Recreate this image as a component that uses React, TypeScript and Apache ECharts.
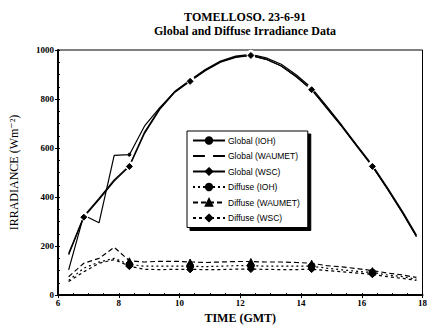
import React, { useEffect, useRef } from "react";
import * as echarts from "echarts";

const times = [6.35, 6.85, 7.35, 7.85, 8.35, 8.85, 9.35, 9.85, 10.35, 10.85, 11.35, 11.85, 12.35, 12.85, 13.35, 13.85, 14.35, 14.85, 15.35, 15.85, 16.35, 16.85, 17.35, 17.8];

const globalIOH = [103, 326, 295, 570, 573, 690, 765, 830, 875, 918, 952, 972, 978, 962, 935, 892, 838, 765, 688, 608, 525, 432, 335, 240];
const globalWAUMET = [170, 322, 395, 470, 528, 665, 762, 832, 878, 920, 955, 975, 982, 968, 942, 898, 845, 770, 692, 610, 530, 438, 340, 245];
const globalWSC = [165, 318, 390, 465, 525, 660, 758, 828, 872, 915, 950, 970, 978, 962, 935, 890, 838, 762, 686, 605, 525, 432, 333, 238];

const diffuseIOH = [60, 110, 135, 150, 125, 118, 118, 118, 118, 116, 118, 120, 120, 118, 118, 118, 118, 110, 103, 97, 92, 82, 75, 65];
const diffuseWAUMET = [75, 130, 150, 195, 140, 135, 138, 138, 135, 133, 135, 137, 137, 135, 135, 133, 130, 120, 115, 108, 100, 90, 82, 72];
const diffuseWSC = [55, 95, 130, 145, 118, 105, 104, 105, 105, 104, 104, 106, 106, 105, 104, 104, 106, 100, 95, 90, 85, 75, 68, 60];

const markerIdx = [1, 4, 8, 12, 16, 20];
const diffuseMarkerIdx = [4, 8, 12, 16, 20];

const xTicks = [6, 8, 10, 12, 14, 16, 18];
const yTicks = [0, 200, 400, 600, 800, 1000];

const titleLines = ["TOMELLOSO. 23-6-91", "Global and Diffuse Irradiance Data"];

function build(values: number[], marks: number[]) {
  return values.map((v, i) =>
    marks.includes(i) ? { value: [times[i], v] } : { value: [times[i], v], symbol: "none" }
  );
}

const serif = "'Liberation Serif', 'DejaVu Serif', serif";
const sans = "'Liberation Sans', Arial, sans-serif";

export default function App() {
  const ref = useRef<HTMLDivElement>(null);
  useEffect(() => {
    if (!ref.current) return;
    const chart = echarts.init(ref.current, null, { renderer: "svg" });
    const line = (name: string, data: number[], marks: number[], symbol: string, size: number, type: any, filled: boolean) => ({
      name,
      type: "line",
      data: build(data, marks),
      symbol,
      symbolSize: size,
      showSymbol: true,
      lineStyle: { color: "#000", width: 1.2, type },
      itemStyle: { color: filled ? "#000" : "#fff", borderColor: "#000", borderWidth: 1 },
      z: 3,
    });
    chart.setOption({
      animation: false,
      backgroundColor: "#fff",
      title: {
        text: titleLines.join("\n"),
        left: 240,
        top: 5,
        textAlign: "center",
        textStyle: { fontFamily: serif, fontWeight: "bold", fontSize: 12, lineHeight: 14, color: "#000" },
      },
      legend: {
        orient: "vertical",
        left: 187,
        top: 131,
        itemWidth: 32,
        itemHeight: 8,
        itemGap: 6.5,
        padding: [5, 8, 5, 5],
        backgroundColor: "#fff",
        borderColor: "#000",
        borderWidth: 1,
        shadowColor: "#000",
        shadowOffsetX: 3,
        shadowOffsetY: 3,
        shadowBlur: 0,
        textStyle: { fontFamily: sans, fontSize: 8.5, color: "#000", padding: [0, 0, 0, -2] },
        data: ["Global (IOH)", "Global (WAUMET)", "Global (WSC)", "Diffuse (IOH)", "Diffuse (WAUMET)", "Diffuse (WSC)"],
      },
      grid: {
        left: 58,
        top: 50,
        right: 0,
        bottom: 31,
        show: true,
        borderColor: "#000",
        borderWidth: 1,
        backgroundColor: "transparent",
      },
      xAxis: [
        {
          type: "value",
          min: 6,
          max: 18,
          interval: 2,
          name: "TIME (GMT)",
          nameLocation: "middle",
          nameGap: 14,
          nameTextStyle: { fontFamily: serif, fontWeight: "bold", fontSize: 12, color: "#000" },
          axisLine: { show: true, lineStyle: { color: "#000", width: 2 } },
          axisTick: { show: true, length: 3, lineStyle: { color: "#000", width: 1 } },
          axisLabel: { fontFamily: serif, fontWeight: "bold", fontSize: 9, color: "#000", margin: 3,
            formatter: (v: number) => (xTicks.includes(v) ? String(v) : "") },
          splitLine: { show: false },
        },
        {
          type: "value",
          min: 6,
          max: 18,
          interval: 0.5,
          position: "bottom",
          axisLine: { show: false },
          axisTick: { show: true, inside: true, length: 2, lineStyle: { color: "#000", width: 1 } },
          axisLabel: { show: false },
          splitLine: { show: false },
        },
      ],
      yAxis: [
        {
          type: "value",
          min: 0,
          max: 1000,
          interval: 200,
          name: "IRRADIANCE (Wm\u207B\u00B2)",
          nameLocation: "middle",
          nameGap: 38,
          nameTextStyle: { fontFamily: serif, fontSize: 12, color: "#000" },
          axisLine: { show: true, lineStyle: { color: "#000", width: 2 } },
          axisTick: { show: true, length: 3, lineStyle: { color: "#000", width: 1 } },
          axisLabel: { fontFamily: serif, fontWeight: "bold", fontSize: 9, color: "#000", margin: 4,
            formatter: (v: number) => (yTicks.includes(v) ? String(v) : "") },
          splitLine: { show: false },
        },
        {
          type: "value",
          min: 0,
          max: 1000,
          interval: 50,
          position: "left",
          axisLine: { show: false },
          axisTick: { show: true, inside: true, length: 2, lineStyle: { color: "#000", width: 1 } },
          axisLabel: { show: false },
          splitLine: { show: false },
        },
      ],
      series: [
        line("Global (IOH)", globalIOH, markerIdx, "circle", 3, "solid", true),
        line("Global (WAUMET)", globalWAUMET, markerIdx, "emptyCircle", 7, "solid", false),
        line("Global (WSC)", globalWSC, markerIdx, "diamond", 6, "solid", true),
        line("Diffuse (IOH)", diffuseIOH, diffuseMarkerIdx, "circle", 7, [2, 3], true),
        line("Diffuse (WAUMET)", diffuseWAUMET, diffuseMarkerIdx, "triangle", 6, [5, 3], true),
        line("Diffuse (WSC)", diffuseWSC, diffuseMarkerIdx, "diamond", 7, [3, 3], true),
      ],
    });
    return () => chart.dispose();
  }, []);
  return (
    <div
      ref={ref}
      style={{ position: "fixed", left: 0, top: 0, width: 430, height: 329, background: "#fff" }}
    />
  );
}
